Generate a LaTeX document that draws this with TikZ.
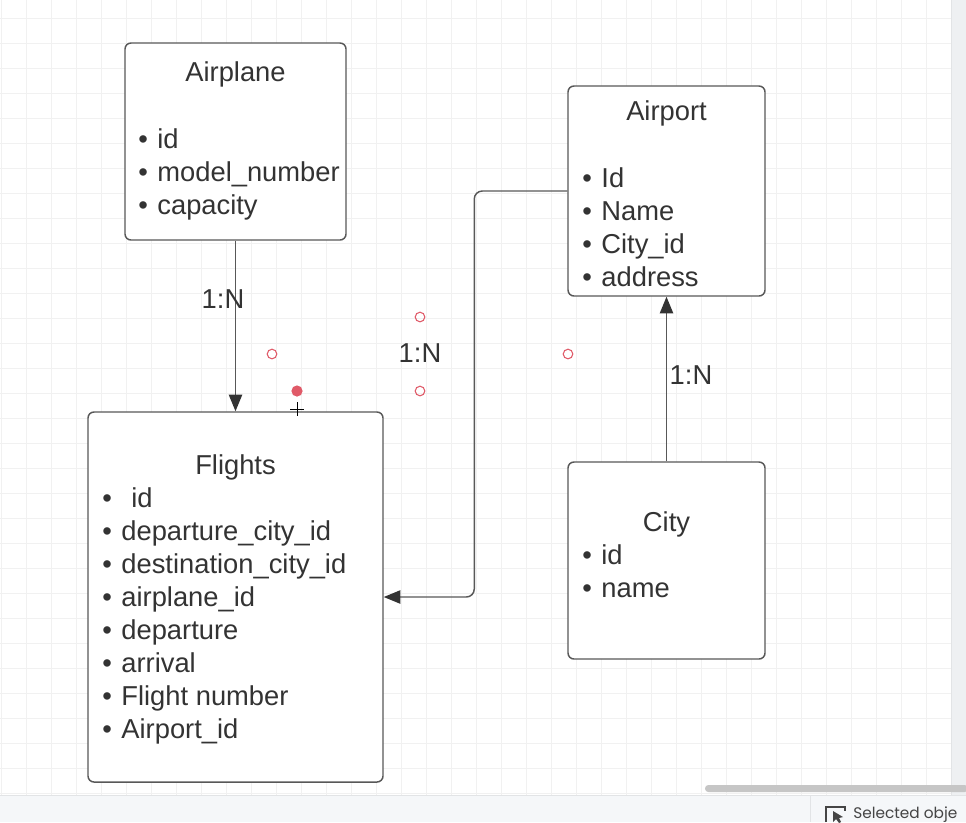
\documentclass[tikz,border=0pt]{standalone}
\usepackage{fontspec}
\setmainfont{Liberation Sans}
\newfontfamily\uifont{Poppins}
\usetikzlibrary{arrows.meta,fit,calc}

\definecolor{ink}{HTML}{333333}
\definecolor{edge}{HTML}{585858}
\definecolor{gridline}{HTML}{F1F1F1}
\definecolor{handle}{HTML}{E05A68}
\definecolor{panel}{HTML}{F5F7F9}
\definecolor{rail}{HTML}{EEF0F2}
\definecolor{railedge}{HTML}{E2E4E6}
\definecolor{thumb}{HTML}{C6C6C6}
\definecolor{status}{HTML}{454545}

\newcommand{\entry}[1]{\textbullet\hspace{0.35em}#1}

\begin{document}
\begin{tikzpicture}[
    x=0.75pt, y=-0.75pt,
    every node/.style={font=\fontsize{20.5}{24}\selectfont, text=ink},
    entity/.style={draw=edge, fill=white, line width=1.1pt, rounded corners=4.5pt, inner sep=0pt},
    title/.style={anchor=base, inner sep=0pt},
    field/.style={anchor=base west, inner sep=0pt},
    card/.style={inner sep=0pt},
    link/.style={draw=edge, line width=1.1pt, -{Triangle[length=12.5pt,width=10pt,color=ink]}},
    hollow/.style={draw=handle, line width=0.8pt},
  ]
  \useasboundingbox (0,0) rectangle (966,822);
  \fill[white] (0,0) rectangle (966,822);
  \foreach \gx in {1,26,...,951}
    \draw[gridline, line width=0.6pt] (\gx,0) -- (\gx,795);
  \foreach \gy in {18,43,...,795}
    \draw[gridline, line width=0.6pt] (0,\gy) -- (951,\gy);

  \node[entity, fit={(125,43) (346,240)}] (airplane) {};
  \node[entity, fit={(568,86) (765,296)}] (airport) {};
  \node[entity, fit={(88,412) (383,782)}] (flights) {};
  \node[entity, fit={(568,462) (765,659)}] (city) {};

  \node[title] (airplane-title) at ($(airplane.north)+(0,39)$) {Airplane};
  \node[title] (airport-title) at ($(airport.north)+(0,35)$) {Airport};
  \node[title] (flights-title) at ($(flights.north)+(0,63)$) {Flights};
  \node[title] (city-title) at ($(city.north)+(0,70)$) {City};

  \foreach \f [count=\i] in {id, model\_number, capacity}
    \node[field] (airplane-\i) at (138,{148+33*(\i-1)}) {\entry{\f}};
  \foreach \f [count=\i] in {Id, Name, City\_id, address}
    \node[field] (airport-\i) at (582,{187+33*(\i-1)}) {\entry{\f}};
  \foreach \f [count=\i] in {{\hspace{7.5pt}id}, departure\_city\_id, destination\_city\_id,
      airplane\_id, departure, arrival, Flight number, Airport\_id}
    \node[field] (flights-\i) at (102,{507+33*(\i-1)}) {\entry{\f}};
  \foreach \f [count=\i] in {id, name}
    \node[field] (city-\i) at (582,{564+33*(\i-1)}) {\entry{\f}};

  \draw[link] (airplane.south) -- (flights.north);
  \draw[link, rounded corners=6pt] (airport.west) -- ++(-93,0) |- (flights.east);
  \draw[link] (city.north) -- (airport.south);

  \node[card] (plane-flight) at (223,299) {1:N};
  \node[card] (port-flight) at (420,353) {1:N};
  \node[card] (city-port) at (691,375) {1:N};

  \foreach \hx/\hy in {272/354, 420/317, 420/391, 568/354}
    \draw[hollow] (\hx,\hy) circle[radius=3.6pt];
  \fill[handle] (297,391) circle[radius=4.2pt];
  \draw[black, line width=0.6pt] (290,409) -- (304,409) (297,402) -- (297,416);

  \fill[rail] (951,0) rectangle (966,795);
  \draw[railedge] (951,0) -- (951,795);
  \fill[panel] (0,795) rectangle (966,822);
  \draw[railedge] (0,795) -- (966,795);
  \fill[thumb, rounded corners=2.5pt] (705,785) rectangle (968,792);
  \draw[railedge] (810,796) -- (810,822);
  \draw[status, line width=0.8pt] (826,822) -- (826,807) -- (845,807) -- (845,811);
  \fill[status] (833,811) -- (833,822) -- (836,819) -- (839,823) -- (841,822) -- (839,818) -- (843,817) -- cycle;
  \node[anchor=base west, inner sep=0pt, font=\uifont\fontsize{11.5}{13}\selectfont, text=status]
    (selection) at (853,818) {Selected obje};
\end{tikzpicture}
\end{document}
